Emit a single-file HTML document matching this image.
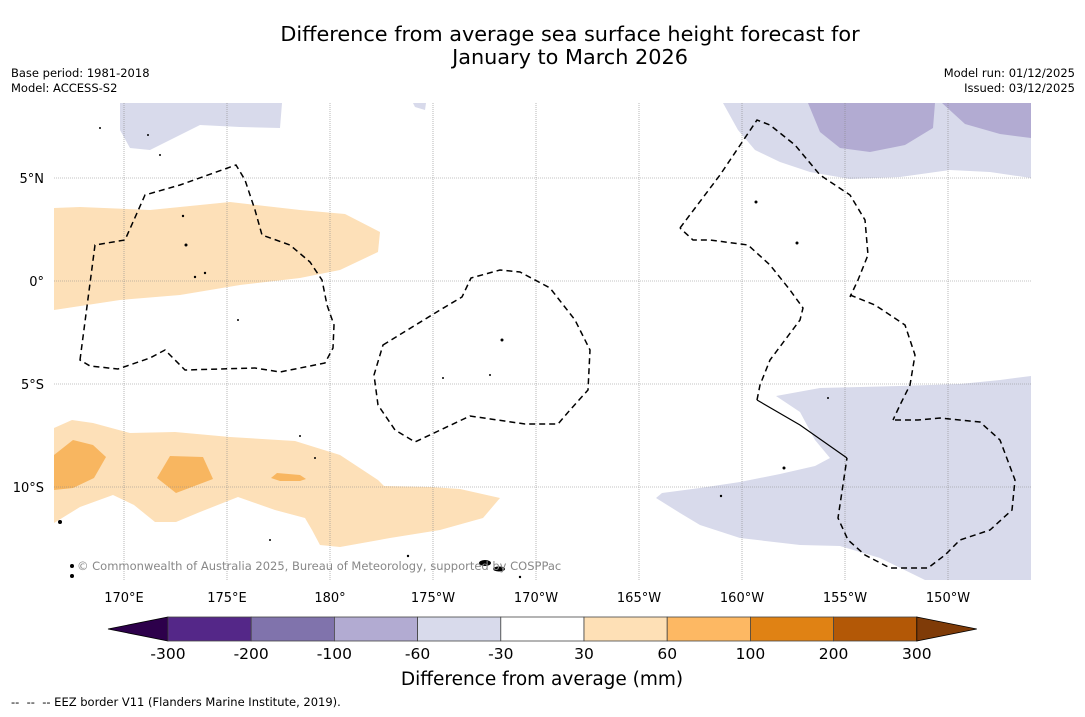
<!DOCTYPE html>
<html><head><meta charset="utf-8">
<style>
body{margin:0;background:#fff;width:1085px;height:713px;overflow:hidden;font-family:"DejaVu Sans","Liberation Sans",sans-serif;}
svg text{font-family:"DejaVu Sans","Liberation Sans",sans-serif;white-space:pre;}
</style></head>
<body>
<svg id="chart" width="1085" height="713" xmlns="http://www.w3.org/2000/svg">
<rect width="1085" height="713" fill="#fff"/>
<text x="570" y="41" font-size="20.8" text-anchor="middle" fill="#000">Difference from average sea surface height forecast for</text>
<text x="570" y="64" font-size="20.8" text-anchor="middle" fill="#000">January to March 2026</text>
<text x="11" y="77" font-size="11.5">Base period: 1981-2018</text>
<text x="11" y="92" font-size="11.5">Model: ACCESS-S2</text>
<text x="1075" y="77" font-size="11.5" text-anchor="end">Model run: 01/12/2025</text>
<text x="1075" y="92" font-size="11.5" text-anchor="end">Issued: 03/12/2025</text>

<g>
<clipPath id="clip"><rect x="54" y="103" width="977" height="477"/></clipPath>
<g clip-path="url(#clip)">
<path fill="#d8daeb" d="M120,103 L282,103 L280,128 L240,127 L200,125 L170,140 L150,150 L130,148 L120,130 Z"/>
<path fill="#d8daeb" d="M413,103 L426,103 L425,110 L415,107 Z"/>
<path fill="#d8daeb" d="M723,103 L1031,103 L1031,178 L990,172 L950,170 L900,177 L850,179 L810,172 L780,162 L755,150 L738,130 Z"/>
<path fill="#b2abd2" d="M808,103 L935,103 L933,128 L905,145 L870,152 L840,148 L820,132 Z"/>
<path fill="#b2abd2" d="M942,103 L1031,103 L1031,138 L1000,134 L965,124 Z"/>
<path fill="#d8daeb" d="M776,396 L820,388 L900,386 L960,384 L1000,380 L1031,376 L1031,580 L925,580 L880,558 L840,546 L800,545 L740,538 L700,525 L680,513 L656,498 L662,493 L700,488 L740,482 L780,474 L815,466 L830,458 L815,440 L800,412 Z"/>
<path fill="#fde0b8" d="M54,208 L80,207 L150,210 L230,202 L300,210 L345,214 L380,232 L378,252 L340,270 L300,278 L240,285 L180,295 L120,300 L54,310 Z"/>
<path fill="#fde0b8" d="M54,428 L72,420 L93,423 L130,433 L175,432 L230,437 L295,441 L340,455 L378,480 L384,486 L430,487 L460,489 L500,498 L483,518 L440,530 L390,538 L340,547 L320,545 L312,530 L305,518 L275,510 L238,497 L200,512 L176,522 L155,522 L134,505 L113,495 L80,507 L54,523 Z"/>
<path fill="#f8b660" d="M54,455 L73,440 L93,445 L106,457 L94,478 L73,488 L54,490 Z"/>
<path fill="#f8b660" d="M170,456 L203,457 L213,479 L176,493 L157,478 Z"/>
<path fill="#f8b660" d="M277,473 L300,475 L306,479 L300,481 L280,481 L271,478 Z"/>
<g id="grid" stroke="#888" stroke-width="0.6" stroke-dasharray="1,1"></g>
<g fill="none" stroke="#000" stroke-width="1.5" stroke-dasharray="6,4">
<path d="M80,360 L95,245 L125,240 L145,195 L180,185 L236,165 L245,180 L255,210 L262,235 L290,245 L310,262 L322,280 L327,305 L334,325 L333,348 L325,363 L280,372 L255,368 L185,370 L165,350 L150,358 L118,369 L90,366 Z"/>
<path d="M383,345 L440,310 L462,297 L471,278 L500,270 L520,272 L550,288 L575,320 L590,350 L588,390 L570,410 L558,424 L525,424 L470,416 L415,442 L395,430 L378,405 L374,375 Z"/>
<path d="M680,228 L720,175 L757,120 L770,125 L795,145 L820,175 L850,195 L865,220 L868,255 L858,280 L850,297"/>
<path d="M850,295 L875,305 L905,325 L915,355 L910,385 L900,405 L893,420"/>
<path d="M895,420 L918,420 L940,418 L980,422 L1000,440 L1015,480 L1012,510 L990,530 L960,540 L945,555 L928,568 L890,568 L865,555 L848,540 L838,518 L847,458"/>
<path d="M757,400 L760,385 L770,360 L800,320 L803,308 L790,290 L770,265 L748,245 L710,240 L693,240 L680,228"/>
<path d="M757,400 L800,425 L847,458" stroke-dasharray="none" stroke-width="1.2"/>
</g>
<g fill="#000">
<circle cx="60" cy="522" r="2"/><circle cx="72" cy="566" r="2"/><circle cx="72" cy="576" r="2"/>
<circle cx="186" cy="245" r="1.5"/><circle cx="183" cy="216" r="1.2"/><circle cx="195" cy="277" r="1.2"/>
<circle cx="205" cy="273" r="1.2"/><circle cx="238" cy="320" r="1"/><circle cx="502" cy="340" r="1.5"/>
<circle cx="490" cy="375" r="1"/><circle cx="443" cy="378" r="1"/><circle cx="756" cy="202" r="1.5"/>
<circle cx="797" cy="243" r="1.5"/><circle cx="784" cy="468" r="1.5"/><circle cx="721" cy="496" r="1.2"/>
<circle cx="270" cy="540" r="1"/><circle cx="408" cy="556" r="1.2"/><circle cx="520" cy="577" r="1.2"/>
<circle cx="160" cy="155" r="1"/><circle cx="148" cy="135" r="1"/><circle cx="100" cy="128" r="1"/>
<circle cx="315" cy="458" r="1"/><circle cx="300" cy="436" r="1"/><circle cx="828" cy="398" r="1"/>
<ellipse cx="485" cy="563" rx="6" ry="3"/><ellipse cx="499" cy="569" rx="6" ry="2.5"/>
</g>
</g>
<text x="77" y="570" font-size="11.5" fill="#888">© Commonwealth of Australia 2025, Bureau of Meteorology, supported by COSPPac</text>
<g id="axes"></g>
</g>
<g id="colorbar"></g>
<text x="542" y="685" font-size="18.5" text-anchor="middle">Difference from average (mm)</text>
<text x="11" y="706" font-size="11.5">--  --  -- EEZ border V11 (Flanders Marine Institute, 2019).</text>
</svg>
<script>
const lonTicks=[170,175,180,185,190,195,200,205,210];
const lonLabels=["170°E","175°E","180°","175°W","170°W","165°W","160°W","155°W","150°W"];
const latTicks=[5,0,-5,-10];
const latLabels=["5°N","0°","5°S","10°S"];
const cbLevels=[-300,-200,-100,-60,-30,30,60,100,200,300];
const cbColors=["#542788","#8073ac","#b2abd2","#d8daeb","#ffffff","#fee0b6","#fdb863","#e08214","#b35806"];
const cbUnder="#2d004b", cbOver="#7f3b08";
const NS="http://www.w3.org/2000/svg";
function xLon(l){return 124+(l-170)*20.6;}
function yLat(l){return 281-l*20.6;}
function mk(tag,attrs,parent){const e=document.createElementNS(NS,tag);for(const k in attrs)e.setAttribute(k,attrs[k]);parent.appendChild(e);return e;}
const grid=document.getElementById('grid'),axes=document.getElementById('axes');
lonTicks.forEach((l,i)=>{
  const x=xLon(l);
  const g=mk('line',{x1:x,x2:x,y1:103,y2:580},grid);
  
  
  const t=mk('text',{x:x,y:602,'font-size':13,'text-anchor':'middle'},axes);
  t.textContent=lonLabels[i];
  
  
});
latTicks.forEach((l,i)=>{
  const y=yLat(l);
  const g=mk('line',{x1:54,x2:1031,y1:y,y2:y},grid);
  
  
  const t=mk('text',{x:44,y:y+5,'font-size':13,'text-anchor':'end'},axes);
  t.textContent=latLabels[i];
  
  
});
const cb=document.getElementById('colorbar');
const cbX0=168,cbW=83.2,cbY=617,cbH=24;
const n=cbColors.length;
const under=mk('polygon',{points:`108,${cbY+cbH/2} ${cbX0},${cbY} ${cbX0},${cbY+cbH}`,fill:cbUnder,stroke:'#000','stroke-width':0.8},cb);


cbColors.forEach((c,i)=>{
  const r=mk('rect',{x:cbX0+i*cbW,y:cbY,width:cbW,height:cbH,fill:c,stroke:'#444','stroke-width':0.8},cb);
  
  
});
const xe=cbX0+n*cbW;
const over=mk('polygon',{points:`${xe},${cbY} ${xe+60},${cbY+cbH/2} ${xe},${cbY+cbH}`,fill:cbOver,stroke:'#000','stroke-width':0.8},cb);


cbLevels.forEach((v,i)=>{
  const t=mk('text',{x:cbX0+i*cbW,y:659,'font-size':15.5,'text-anchor':'middle'},cb);
  t.textContent=v;
  
  
});
</script>
</body></html>
